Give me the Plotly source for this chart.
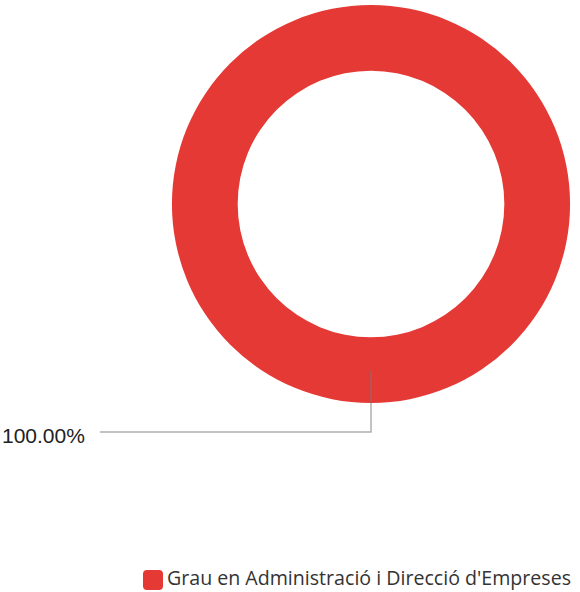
import plotly.graph_objects as go

categories = ["Grau en Administració i Direcció d'Empreses"]
values = [100.0]
colors = ["#e53935"]

W, H = 580, 592
# ring geometry (pixels)
cx, cy, R = 371, 204, 199
hole = 0.67

def px(x, y):
    return f"{x / W:.5f} {1 - y / H:.5f}"

fig = go.Figure()
fig.add_trace(go.Pie(
    labels=categories, values=values,
    marker=dict(colors=colors, line=dict(width=0)),
    hole=hole, textinfo="none", hoverinfo="label+percent",
    sort=False, showlegend=False,
    domain=dict(x=[(cx - R) / W, (cx + R) / W], y=[1 - (cy + R) / H, 1 - (cy - R) / H]),
))

# leader line and label computed from the ring geometry
pct = values[0] / sum(values) * 100
r_mid = R * (1 + hole) / 2
y_start = cy + r_mid
y_elbow = 432
x_end = 100
fig.add_shape(type="path",
              path=f"M {px(cx, y_start)} L {px(cx, y_elbow)} L {px(x_end, y_elbow)}",
              xref="paper", yref="paper", line=dict(color="rgba(120,120,120,0.6)", width=1.5))
fig.add_annotation(x=(x_end - 13) / W, y=1 - (y_elbow + 3) / H, xref="paper", yref="paper",
                   text=f"{pct:.2f}%", showarrow=False, xanchor="right", yanchor="middle",
                   font=dict(family="Liberation Sans, Arial", size=21, color="#222"))

# legend (rounded square + label)
lx, ly, s, rr = 143, 580, 20, 4
x0, x1, y0, y1 = lx, lx + s, ly - s / 2, ly + s / 2
path = (f"M {px(x0 + rr, y0)} L {px(x1 - rr, y0)} Q {px(x1, y0)} {px(x1, y0 + rr)} "
        f"L {px(x1, y1 - rr)} Q {px(x1, y1)} {px(x1 - rr, y1)} "
        f"L {px(x0 + rr, y1)} Q {px(x0, y1)} {px(x0, y1 - rr)} "
        f"L {px(x0, y0 + rr)} Q {px(x0, y0)} {px(x0 + rr, y0)} Z")
fig.add_shape(type="path", path=path, xref="paper", yref="paper",
              fillcolor=colors[0], line=dict(width=0))
fig.add_annotation(x=(lx + s + 3) / W, y=0, xref="paper", yref="paper",
                   text=categories[0], showarrow=False, xanchor="left", yanchor="bottom",
                   borderpad=0, yshift=0,
                   font=dict(family="Open Sans", size=19.6, color="#333"))

fig.update_layout(width=W, height=H, margin=dict(l=0, r=0, t=0, b=0),
                  paper_bgcolor="white", plot_bgcolor="white")
fig.write_html("out.html", config={"displayModeBar": False},
               post_script="document.body.style.margin='0';")
